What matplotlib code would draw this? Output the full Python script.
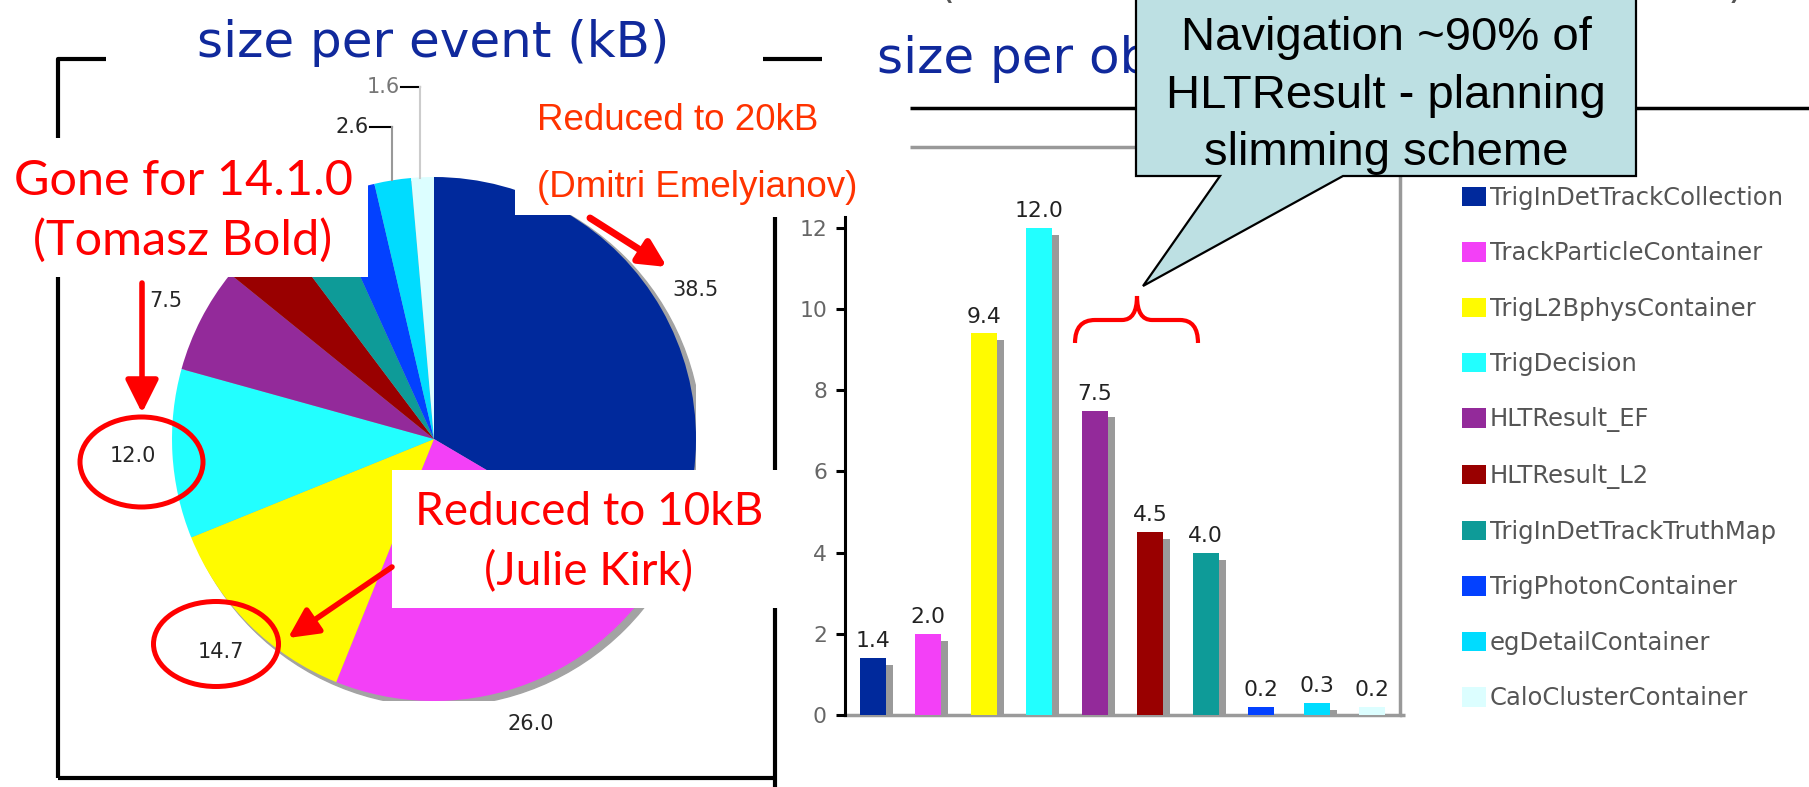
import numpy as np
import matplotlib
matplotlib.use("Agg")
import matplotlib.pyplot as plt
from matplotlib import font_manager
from matplotlib.patches import Circle, Ellipse, Rectangle, PathPatch, Patch
from matplotlib.path import Path

# trigger EDM objects, per-event size (pie) and per-object size (bars), kB
obj_names = ["TrigInDetTrackCollection", "TrackParticleContainer", "TrigL2BphysContainer",
             "TrigDecision", "HLTResult_EF", "HLTResult_L2", "TrigInDetTrackTruthMap",
             "TrigPhotonContainer", "egDetailContainer", "CaloClusterContainer"]
obj_colors = ["#00299c", "#f340f7", "#fffb00", "#22ffff", "#932a9a",
              "#990000", "#0e9b98", "#0341ff", "#00dcff", "#dcfeff"]
event_kb = [38.5, 26.0, 14.7, 12.0, 7.5, 4.5, 4.0, 3.6, 2.6, 1.6]
object_kb = [1.4, 2.0, 9.4, 12.0, 7.5, 4.5, 4.0, 0.2, 0.3, 0.2]
yticks = [0, 2, 4, 6, 8, 10, 12]

W, H = 1809, 787
NAVY = "#10299c"

installed = {f.name for f in font_manager.fontManager.ttflist}
narrow = "Liberation Sans Narrow" if "Liberation Sans Narrow" in installed else "DejaVu Sans"
nscale = 1.0 if narrow == "Liberation Sans Narrow" else 0.75

fig = plt.figure(figsize=(W / 100, H / 100), dpi=100)

# ---- pie: size per event ----
ax_pie = fig.add_axes([172 / W, 1 - 701 / H, 524 / W, 524 / H])
ax_pie.add_patch(Circle((0.018, -0.016), 1.004, color="#a3a3a3", zorder=0))
total = sum(event_kb)
wedges, _, vals = ax_pie.pie(event_kb, colors=obj_colors, startangle=90, counterclock=False,
                             autopct=lambda p: f"{p * total / 100:.1f}", pctdistance=1.15,
                             wedgeprops=dict(linewidth=0),
                             textprops=dict(fontsize=20 * nscale, color="#262626", family=narrow))
ax_pie.set_xlim(-1, 1)
ax_pie.set_ylim(-1, 1)
ax_pie.set_aspect("equal")
# labels of L2 / truth map / photon sit under the note box
for t in vals[5:8]:
    t.set_visible(False)
# the two thin slices get their labels pulled out on leaders
vals[8].set_position((-0.25, 1.19))
vals[8].set_ha("right")
vals[9].set_position((-0.13, 1.345))
vals[9].set_ha("right")
vals[9].set_color("#777777")
ax_pie.plot([-0.245, -0.16], [1.19, 1.19], color="black", lw=1.5, clip_on=False)
ax_pie.plot([-0.16, -0.16], [1.19, 0.987], color="#999999", lw=1.5, clip_on=False)
ax_pie.plot([-0.125, -0.053], [1.345, 1.345], color="black", lw=1.5, clip_on=False)
ax_pie.plot([-0.053, -0.053], [1.345, 0.998], color="#cccccc", lw=1.5, clip_on=False)

# ---- bars: size per object ----
ax_bar = fig.add_axes([845 / W, 1 - 715 / H, 555 / W, 498 / H])
x = np.arange(len(object_kb))
ax_bar.bar(x + 0.126, np.maximum(np.array(object_kb) - 0.17, 0), width=0.47,
           color="#9a9a9a", zorder=2)
bars = ax_bar.bar(x, object_kb, width=0.47, color=obj_colors, zorder=3)
ax_bar.bar_label(bars, labels=[f"{v:.1f}" for v in object_kb], padding=5,
                 fontsize=21 * nscale, color="#222222", family=narrow)
ax_bar.set_xlim(-0.5, 9.5)
ax_bar.set_ylim(0, 12.27)
ax_bar.set_yticks(yticks)
ax_bar.set_xticks([])
ax_bar.tick_params(axis="y", direction="out", length=6.5, width=2.2, pad=6.5,
                   labelsize=21 * nscale, labelcolor="#666666")
for lab in ax_bar.get_yticklabels():
    lab.set_family(narrow)
for s in ["top", "right"]:
    ax_bar.spines[s].set_visible(False)
ax_bar.spines["left"].set_linewidth(2.2)
ax_bar.spines["bottom"].set_color("#9a9a9a")
ax_bar.spines["bottom"].set_linewidth(2.5)
ax_bar.spines["bottom"].set_zorder(1)
ax_bar.patch.set_alpha(0)

handles = [Patch(facecolor=c, label=n) for n, c in zip(obj_names, obj_colors)]
ax_bar.legend(handles=handles, loc="upper left", bbox_to_anchor=(1462 / W, 1 - 186 / H),
              bbox_transform=fig.transFigure, frameon=False, fontsize=17.5,
              handlelength=1.0, handleheight=0.86, handletextpad=0.15,
              labelspacing=1.29, borderpad=0, borderaxespad=0, labelcolor="#555555")

# ---- slide overlay in pixel coordinates ----
ov = fig.add_axes([0, 0, 1, 1])
ov.set_xlim(0, W)
ov.set_ylim(H, 0)
ov.axis("off")
ov.set_zorder(5)
ov.patch.set_alpha(0)

def seg(xs, ys, color="black", lw=3, z=1):
    ov.plot(xs, ys, color=color, lw=lw, zorder=z, solid_capstyle="butt")

# left panel frame
seg([106, 58, 58], [59, 59, 778])
seg([58, 775], [778, 778])
seg([775, 775], [217, 790])
seg([763, 822], [59, 59])
# right panel header rules and chart frame
seg([910, W], [108, 108], lw=2.5)
seg([910, 1400, 1400, 1405], [147, 147, 715, 715], color="#999999", lw=2.5)

ov.text(433, 57, "size per event (kB)", ha="center", va="baseline", fontsize=36,
        color=NAVY, family="DejaVu Sans", zorder=1)
ov.text(877, 73, "size per object (kB)", ha="left", va="baseline", fontsize=36,
        color=NAVY, family="DejaVu Sans", zorder=1)
ov.text(947, 7, "(", ha="center", va="bottom", fontsize=30, color="#555555")
ov.text(1736, 7, ")", ha="center", va="bottom", fontsize=30, color="#555555")

# white note boxes over the pie
for (x0, y0, x1, y1) in [(0, 138, 368, 277), (515, 85, 870, 215), (392, 470, 782, 608)]:
    ov.add_patch(Rectangle((x0, y0), x1 - x0, y1 - y0, facecolor="white",
                           edgecolor="none", zorder=2))

ov.text(183, 195, "Gone for 14.1.0", ha="center", va="baseline", fontsize=35,
        color="red", family="Lato", zorder=3)
ov.text(183, 255, "(Tomasz Bold)", ha="center", va="baseline", fontsize=35,
        color="red", family="Lato", zorder=3)
ov.text(589, 525, "Reduced to 10kB", ha="center", va="baseline", fontsize=33,
        color="red", family="Lato", zorder=3)
ov.text(589, 585, "(Julie Kirk)", ha="center", va="baseline", fontsize=33,
        color="red", family="Lato", zorder=3)
ov.text(537, 130, "Reduced to 20kB", ha="left", va="baseline", fontsize=26.5,
        color="#ff3300", family="Liberation Sans", zorder=3)
ov.text(537, 197, "(Dmitri Emelyianov)", ha="left", va="baseline", fontsize=26.5,
        color="#ff3300", family="Liberation Sans", zorder=3)

def arrow(tail, tip, lw, hl, hw):
    ov.annotate("", xy=tip, xytext=tail, zorder=4,
                arrowprops=dict(arrowstyle=f"-|>,head_length={hl},head_width={hw}",
                                color="red", lw=lw, shrinkA=0, shrinkB=0))

arrow((590, 218), (667, 267), 5, 1.6, 0.8)
arrow((142, 283), (142, 413), 4, 2.0, 1.0)
arrow((392, 567), (288, 638), 4, 1.8, 0.9)

for cx, cy, w, h in [(141.5, 462, 123, 90), (216, 644, 125, 85)]:
    ov.add_patch(Ellipse((cx, cy), w, h, fill=False, edgecolor="red", lw=3.6, zorder=4))

# brace over the HLTResult bars
brace = Path([(1075, 343), (1075, 320), (1095, 320), (1122, 320), (1137, 320), (1137, 296),
              (1137, 320), (1152, 320), (1180, 320), (1198, 320), (1198, 343)],
             [Path.MOVETO, Path.CURVE3, Path.CURVE3, Path.LINETO, Path.CURVE3, Path.CURVE3,
              Path.CURVE3, Path.CURVE3, Path.LINETO, Path.CURVE3, Path.CURVE3])
ov.add_patch(PathPatch(brace, fill=False, edgecolor="red", lw=3, zorder=4))

# callout
callout = Path([(1136, -5), (1636, -5), (1636, 176), (1343, 176), (1143, 286),
                (1220, 176), (1136, 176), (1136, -5)], closed=True)
ov.add_patch(PathPatch(callout, facecolor="#bde0e3", edgecolor="black", lw=1.6, zorder=6))
for yb, line in zip([50, 108, 165], ["Navigation ~90% of", "HLTResult - planning",
                                     "slimming scheme"]):
    ov.text(1386, yb, line, ha="center", va="baseline", fontsize=34,
            family="Liberation Sans", color="black", zorder=7)

fig.savefig("out.png", dpi=100)
